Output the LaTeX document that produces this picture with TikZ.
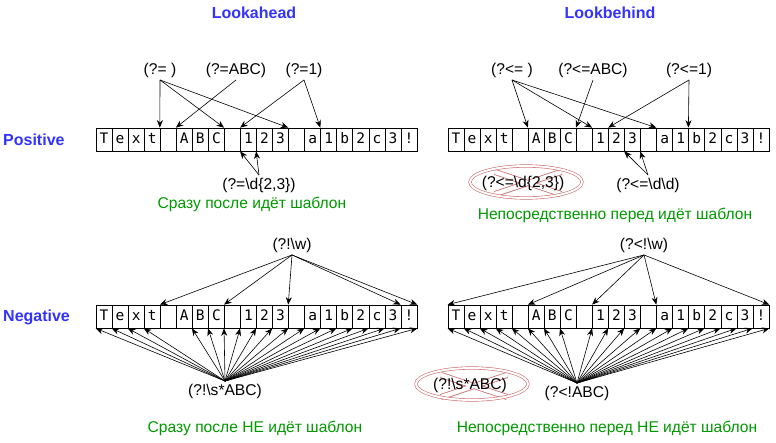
\documentclass[tikz,border=0pt]{standalone}
\usepackage{fontspec}
\setmainfont{Liberation Sans}
\newfontfamily\monofam{DejaVu Sans Mono}
\usetikzlibrary{arrows.meta,shapes.geometric}
\definecolor{ttlblue}{RGB}{51,51,255}
\definecolor{cmtgreen}{RGB}{0,153,0}
\definecolor{xred}{RGB}{205,110,110}

\begin{document}
\begin{tikzpicture}[x=1pt, y=-1pt,
cell/.style={draw, line width=0.7pt, minimum width=16.05pt, minimum height=23pt, inner sep=0pt, text height=10pt, text depth=3pt, font=\monofam\fontsize{14.5}{16}\selectfont},
lbl/.style={inner sep=2.5pt, font=\fontsize{15.6}{18}\selectfont},
ttl/.style={inner sep=0pt, text=ttlblue, font=\bfseries\fontsize{16}{18}\selectfont},
cmt/.style={inner sep=1pt, text=cmtgreen, font=\fontsize{15.6}{18}\selectfont},
arr/.style={-{Stealth[length=7.5pt,width=6pt]}, line width=0.6pt},
xoval/.style={ellipse, draw=xred, double=white, double distance=2pt, line width=0.6pt, minimum width=112pt, minimum height=32pt},
xbar/.style={draw=xred, line width=6pt},
xgap/.style={draw=white, line width=4.4pt},
]
\useasboundingbox (0,0) rectangle (776,442);

% titles
\node[ttl] (ahead) at (254,13) {Lookahead};
\node[ttl] (behind) at (610,13) {Lookbehind};
\node[ttl, anchor=west] (pos) at (3,140) {Positive};
\node[ttl, anchor=west] (neg) at (3,317) {Negative};

% the four strips of text
\foreach \s/\x/\y in {pahead/96/128, pbehind/448/128, nahead/96/305, nbehind/448/305}
  \foreach \c [count=\i from 0] in {T,e,x,t,{},A,B,C,{},1,2,3,{},a,1,b,2,c,3,!}
    \node[cell] (\s-\i) at ({\x+\i*16.05+8.025},{\y+11.5}) {\c};
\foreach \s in {pahead,pbehind,nahead,nbehind} {
  \foreach \k in {0,...,19} {
    \coordinate (\s-t\k) at (\s-\k.north west);
    \coordinate (\s-b\k) at (\s-\k.south west);
  }
  \coordinate (\s-t20) at (\s-19.north east);
  \coordinate (\s-b20) at (\s-19.south east);
}

% crossed out patterns
\coordinate (xc1) at (528,183);
\coordinate (xc2) at (474,386);
\foreach \c in {xc1,xc2} {
  \draw[xbar] ([shift={(-33,-11)}]\c) -- ([shift={(33,11)}]\c) ([shift={(-33,11)}]\c) -- ([shift={(33,-11)}]\c);
  \draw[xgap] ([shift={(-33,-11)}]\c) -- ([shift={(33,11)}]\c) ([shift={(-33,11)}]\c) -- ([shift={(33,-11)}]\c);
}
\node[xoval] (xo1) at (526,182) {};
\node[xoval] (xo2) at (472,384) {};

% positive lookahead
\node[lbl] (pa1) at (160,70) {(?= )};
\node[lbl] (pa2) at (236,70) {(?=ABC)};
\node[lbl] (pa3) at (304,70) {(?=1)};
\node[lbl] (pa4) at (259,185) {(?=\textbackslash d\{2,3\})};
\node[cmt] (pacmt) at (252,204) {Сразу после идёт шаблон};
\foreach \k in {4,8,12} \draw[arr] (pa1.south) -- (pahead-t\k);
\draw[arr] (pa2.south) -- (pahead-t5);
\foreach \k in {9,14} \draw[arr] (pa3.south) -- (pahead-t\k);
\foreach \k in {9,10} \draw[arr] (pa4.north) -- (pahead-b\k);

% positive lookbehind
\node[lbl] (pb1) at (512,70) {(?<= )};
\node[lbl] (pb2) at (593,70) {(?<=ABC)};
\node[lbl] (pb3) at (689,70) {(?<=1)};
\node[lbl] (pb4) at (648,185) {(?<=\textbackslash d\textbackslash d)};
\node[lbl] (pb5) at (523,183) {(?<=\textbackslash d\{2,3\})};
\node[cmt] (pbcmt) at (615,215) {Непосредственно перед идёт шаблон};
\foreach \k in {5,9,13} \draw[arr] (pb1.south) -- (pbehind-t\k);
\draw[arr] (pb2.south) -- (pbehind-t8);
\foreach \k in {10,15} \draw[arr] (pb3.south) -- (pbehind-t\k);
\foreach \k in {11,12} \draw[arr] (pb4.north) -- (pbehind-b\k);

% negative lookahead
\node[lbl] (na1) at (292,245) {(?!\textbackslash w)};
\node[lbl] (na2) at (225,391) {(?!\textbackslash s*ABC)};
\node[cmt] (nacmt) at (255,428) {Сразу после НЕ идёт шаблон};
\foreach \k in {4,8,12,19,20} \draw[arr] (na1.south) -- (nahead-t\k);
\foreach \k in {0,1,2,3,6,7,8,9,10,11,12,13,14,15,16,17,18,19,20}
  \draw[arr] (na2.north) -- (nahead-b\k);

% negative lookbehind
\node[lbl] (nb1) at (644,245) {(?<!\textbackslash w)};
\node[lbl] (nb2) at (577,393) {(?<!ABC)};
\node[lbl] (nb3) at (470,385) {(?!\textbackslash s*ABC)};
\node[cmt] (nbcmt) at (607,428) {Непосредственно перед НЕ идёт шаблон};
\foreach \k in {0,5,9,13,20} \draw[arr] (nb1.south) -- (nbehind-t\k);
\foreach \k in {0,1,2,3,4,5,6,7,9,10,11,12,13,14,15,16,17,18,19,20}
  \draw[arr] (nb2.north) -- (nbehind-b\k);
\end{tikzpicture}
\end{document}
